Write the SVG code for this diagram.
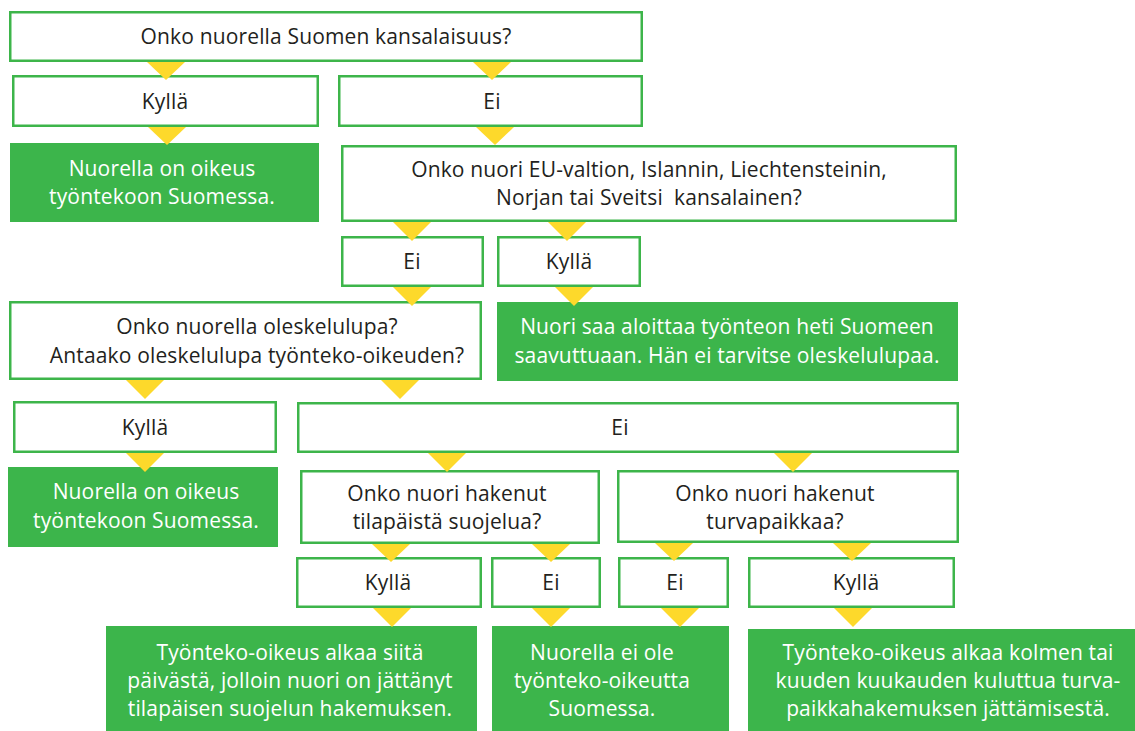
<svg xmlns="http://www.w3.org/2000/svg" width="1135" height="731" viewBox="0 0 1135 731">
<style>
.b{fill:#fff;stroke:#3db54a;stroke-width:2.5}
.g{fill:#3cb54b;stroke:none}
.t{font-family:"Open Sans","Noto Sans","Liberation Sans",sans-serif;font-size:21px;letter-spacing:0.15px;fill:#231f20;text-anchor:middle}
.w{fill:#fff}
.tri{fill:#fdd92b}
</style>
<rect width="1135" height="731" fill="#fff"/>
<g id="q1"><rect class="b" x="10.25" y="12.25" width="631.5" height="48.5"/><text class="t" x="326" y="44">Onko nuorella Suomen kansalaisuus?</text></g>
<g id="kylla1"><rect class="b" x="13.25" y="76.25" width="304.5" height="49.5"/><text class="t" x="165" y="109">Kyllä</text></g>
<g id="ei1"><rect class="b" x="339.25" y="76.25" width="302.5" height="49.5"/><text class="t" x="492" y="109">Ei</text></g>
<g id="g1"><rect class="g" x="10" y="143" width="309" height="79"/><text class="t w" x="162" y="176">Nuorella on oikeus</text><text class="t w" x="162" y="204">työntekoon Suomessa.</text></g>
<g id="q2"><rect class="b" x="342.25" y="146.25" width="613.5" height="74.5"/><text class="t" x="649" y="177">Onko nuori EU-valtion, Islannin, Liechtensteinin,</text><text class="t" x="649" y="205" style="white-space:pre">Norjan tai Sveitsi  kansalainen?</text></g>
<g id="ei2"><rect class="b" x="342.25" y="237.25" width="140.5" height="48.5"/><text class="t" x="412" y="269">Ei</text></g>
<g id="kylla2"><rect class="b" x="498.25" y="237.25" width="141.5" height="48.5"/><text class="t" x="569" y="269">Kyllä</text></g>
<g id="q3"><rect class="b" x="10.25" y="302.25" width="470.5" height="76.5"/><text class="t" x="257" y="334">Onko nuorella oleskelulupa?</text><text class="t" x="257" y="363">Antaako oleskelulupa työnteko-oikeuden?</text></g>
<g id="g2"><rect class="g" x="497" y="302" width="461" height="79"/><text class="t w" x="727" y="334">Nuori saa aloittaa työnteon heti Suomeen</text><text class="t w" x="727" y="363">saavuttuaan. Hän ei tarvitse oleskelulupaa.</text></g>
<g id="kylla3"><rect class="b" x="14.25" y="402.25" width="261.5" height="49.5"/><text class="t" x="145" y="435">Kyllä</text></g>
<g id="ei3"><rect class="b" x="298.25" y="403.25" width="659.5" height="48.5"/><text class="t" x="620" y="435">Ei</text></g>
<g id="g3"><rect class="g" x="8" y="467" width="270" height="80"/><text class="t w" x="146" y="499">Nuorella on oikeus</text><text class="t w" x="146" y="528">työntekoon Suomessa.</text></g>
<g id="q4"><rect class="b" x="301.25" y="471.25" width="297.5" height="71.5"/><text class="t" x="447" y="501">Onko nuori hakenut</text><text class="t" x="447" y="529">tilapäistä suojelua?</text></g>
<g id="q5"><rect class="b" x="618.25" y="471.25" width="339.5" height="70.5"/><text class="t" x="775" y="501">Onko nuori hakenut</text><text class="t" x="775" y="529">turvapaikkaa?</text></g>
<g id="kylla4"><rect class="b" x="297.25" y="558.25" width="183.5" height="48.5"/><text class="t" x="388" y="590">Kyllä</text></g>
<g id="ei4"><rect class="b" x="492.25" y="558.25" width="107.5" height="48.5"/><text class="t" x="551" y="590">Ei</text></g>
<g id="ei5"><rect class="b" x="619.25" y="558.25" width="108.5" height="48.5"/><text class="t" x="675" y="590">Ei</text></g>
<g id="kylla5"><rect class="b" x="749.25" y="558.25" width="204.5" height="48.5"/><text class="t" x="856" y="590">Kyllä</text></g>
<g id="g4"><rect class="g" x="106" y="626" width="371" height="105"/><text class="t w" x="290" y="660">Työnteko-oikeus alkaa siitä</text><text class="t w" x="290" y="688">päivästä, jolloin nuori on jättänyt</text><text class="t w" x="290" y="716">tilapäisen suojelun hakemuksen.</text></g>
<g id="g5"><rect class="g" x="492" y="626" width="237" height="105"/><text class="t w" x="602" y="660">Nuorella ei ole</text><text class="t w" x="602" y="688">työnteko-oikeutta</text><text class="t w" x="602" y="716">Suomessa.</text></g>
<g id="g6"><rect class="g" x="748" y="629" width="387" height="102"/><text class="t w" x="948" y="660">Työnteko-oikeus alkaa kolmen tai</text><text class="t w" x="948" y="688">kuuden kuukauden kuluttua turva-</text><text class="t w" x="948" y="716">paikkahakemuksen jättämisestä.</text></g>
<g id="connectors">
<path class="tri" d="M147,62h38l-19,18z"/>
<path class="tri" d="M473,62h38l-19,18z"/>
<path class="tri" d="M148,127h38l-19,18z"/>
<path class="tri" d="M476,127h38l-19,18z"/>
<path class="tri" d="M393,222h38l-19,19z"/>
<path class="tri" d="M548,222h38l-19,19z"/>
<path class="tri" d="M393,287h38l-19,19z"/>
<path class="tri" d="M555,287h38l-19,19z"/>
<path class="tri" d="M126,380h38l-19,19z"/>
<path class="tri" d="M381,380h38l-19,19z"/>
<path class="tri" d="M126,453h38l-19,19z"/>
<path class="tri" d="M428,453h38l-19,19z"/>
<path class="tri" d="M774,453h38l-19,19z"/>
<path class="tri" d="M372,544h38l-19,18z"/>
<path class="tri" d="M532,544h38l-19,18z"/>
<path class="tri" d="M655,543h38l-19,18z"/>
<path class="tri" d="M833,543h38l-19,18z"/>
<path class="tri" d="M373,608h38l-19,19z"/>
<path class="tri" d="M532,608h38l-19,19z"/>
<path class="tri" d="M661,608h38l-19,19z"/>
<path class="tri" d="M834,608h38l-19,19z"/>
</g>
</svg>
